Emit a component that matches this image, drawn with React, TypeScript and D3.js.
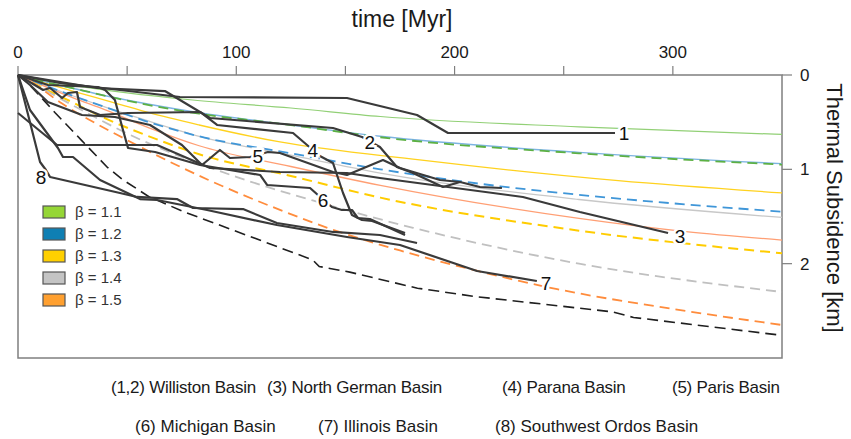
import React, { useEffect, useRef } from "react";
import * as d3 from "d3";

// axes
const timeLabels = [0, 100, 200, 300];
const timeTicks = [0, 50, 100, 150, 200, 250, 300];
const depthTicks = [0, 1, 2];

// legend
const betaLabels = ["β = 1.1", "β = 1.2", "β = 1.3", "β = 1.4", "β = 1.5"];
const betaColours = ["#95d636", "#0f7fb3", "#ffd000", "#c4c4c4", "#ffa030"];

const basinRow1 = ["(1,2) Williston Basin", "(3) North German Basin", "(4) Parana Basin", "(5) Paris Basin"];
const basinRow2 = ["(6) Michigan Basin", "(7) Illinois Basin", "(8) Southwest Ordos Basin"];

// model curves  [time Myr, subsidence km]
const b11Solid = [[0, 0], [10, 0.05], [25, 0.11], [50, 0.19], [80, 0.265], [125, 0.35], [166, 0.44], [257, 0.55], [350, 0.63]];
const b11Dashed = [[0, 0], [10, 0.06], [25, 0.14], [40, 0.22], [60, 0.32], [83, 0.41], [125, 0.53], [166, 0.66], [257, 0.83], [350, 0.95]];
const b12Solid = [[0, 0], [10, 0.06], [25, 0.14], [40, 0.22], [60, 0.31], [83, 0.4], [125, 0.53], [166, 0.65], [257, 0.82], [350, 0.94]];
const b12Dashed = [[0, 0], [10, 0.09], [25, 0.22], [40, 0.34], [60, 0.5], [83, 0.65], [125, 0.83], [166, 1.0], [221, 1.18], [257, 1.27], [350, 1.45]];
const b13Solid = [[0, 0], [10, 0.07], [25, 0.17], [45, 0.3], [60, 0.4], [83, 0.53], [120, 0.71], [184, 0.9], [275, 1.12], [350, 1.25]];
const b13Dashed = [[0, 0], [10, 0.12], [25, 0.29], [40, 0.46], [60, 0.65], [83, 0.84], [125, 1.07], [166, 1.3], [257, 1.65], [350, 1.89]];
const b14Solid = [[0, 0], [10, 0.09], [25, 0.22], [40, 0.34], [60, 0.49], [83, 0.65], [125, 0.85], [166, 1.04], [257, 1.32], [350, 1.51]];
const b14Dashed = [[0, 0], [10, 0.13], [25, 0.32], [50, 0.62], [100, 1.08], [135, 1.33], [181, 1.62], [257, 2.0], [350, 2.3]];
const b15Solid = [[0, 0], [10, 0.1], [25, 0.24], [40, 0.37], [60, 0.56], [83, 0.75], [125, 0.97], [166, 1.17], [257, 1.52], [306, 1.66], [350, 1.75]];
const b15Dashed = [[0, 0], [5, 0.06], [20, 0.3], [50, 0.69], [87, 1.11], [120, 1.43], [143, 1.63], [175, 1.86], [211, 2.08], [247, 2.27], [300, 2.48], [350, 2.65]];
const blackDashed = [[0, 0], [4.6, 0.085], [17, 0.4], [29, 0.69], [41, 0.98], [48, 1.11], [60, 1.29], [76, 1.45], [98, 1.64], [135, 1.96], [138, 2.03], [152, 2.09], [183, 2.26], [210, 2.35], [272, 2.51], [282, 2.57], [350, 2.76]];

// basin subsidence paths
const basin1 = [[0, 0], [19.2, 0.085], [74.2, 0.233], [150.7, 0.244], [182.8, 0.424], [197, 0.615], [273.5, 0.615]];
const basin2 = [[0, 0], [36.2, 0.138], [67.3, 0.17], [88, 0.456], [144.3, 0.562], [157.6, 0.657], [165.8, 0.763], [173.6, 0.975], [180.9, 1.039], [194.7, 1.187], [202.5, 1.134], [211.6, 1.187], [221.7, 1.198]];
const basin3 = [[0, 0.403], [17.9, 0.742], [63.7, 0.742], [88, 0.986], [120, 1.028], [150.7, 1.039], [165.8, 1.092], [231.3, 1.293], [257.4, 1.452], [297.8, 1.675]];
const basin4 = [[0, 0], [11.5, 0.159], [14.7, 0.138], [20.2, 0.244], [22.9, 0.191], [27, 0.18], [28.4, 0.339], [37.6, 0.424], [50.4, 0.403], [83.4, 0.392], [91.2, 0.53], [126, 0.615], [138.3, 0.859], [144.3, 0.933], [148.9, 1.251], [153, 1.484], [157.6, 1.537], [162.2, 1.548], [177.3, 1.675]];
const basin5 = [[0, 0], [5.5, 0.106], [13.7, 0.286], [29.3, 0.424], [44.4, 0.445], [60.5, 0.53], [75.1, 0.742], [84.3, 0.954], [92.5, 0.795], [97.1, 0.88], [106.3, 0.869], [114.5, 0.816], [120, 0.827], [144.3, 1.028], [150.7, 1.06], [167.2, 0.901], [175, 0.986], [193.3, 1.113], [202.5, 1.134]];
const basin6 = [[0, 0], [13.7, 0.106], [36.6, 0.127], [39.9, 0.159], [44.4, 0.265], [48.1, 0.583], [50.4, 0.774], [62.8, 0.816], [83.4, 0.954], [110.9, 1.06], [114.1, 1.166], [133.8, 1.198], [137.4, 1.272], [143.8, 1.399], [148.4, 1.431], [153, 1.431], [155.7, 1.516], [161.2, 1.527], [177.3, 1.696]];
const basin7 = [[0, 0], [5.5, 0.371], [18.3, 0.774], [20.6, 0.869], [25.2, 0.869], [37.6, 1.113], [55.9, 1.315], [63.7, 1.325], [86.6, 1.431], [118.6, 1.59], [150.7, 1.717], [175, 1.802], [210.3, 2.078], [237.7, 2.184]];
const basin8 = [[0, 0], [10.1, 0.922], [12.8, 1.007], [14.7, 1.081], [46.7, 1.251], [54.5, 1.293], [72.8, 1.315], [80.2, 1.41], [103.1, 1.421], [118.6, 1.569], [144.3, 1.664], [165.8, 1.696], [182.8, 1.781]];

const basinLabels = ["1", "2", "3", "4", "5", "6", "7", "8"];
const labelTimes = [277.6, 161.2, 303.3, 135.1, 109.9, 139.7, 241.9, 10.5];
const labelDepths = [0.615, 0.71, 1.707, 0.795, 0.859, 1.325, 2.205, 1.081];

const App = () => {
  const ref = useRef<SVGSVGElement>(null);

  useEffect(() => {
    const width = 851;
    const height = 439;
    const left = 18, right = 782, top = 75, bottom = 358;
    const font = "'Liberation Sans', Arial, sans-serif";

    const svg = d3.select(ref.current);
    svg.selectAll("*").remove();

    const x = d3.scaleLinear().domain([0, 350]).range([left, right]);
    const y = d3.scaleLinear().domain([0, 3]).range([top, bottom]);

    const smooth = d3.line<number[]>().x(d => x(d[0])).y(d => y(d[1])).curve(d3.curveMonotoneX);
    const straight = d3.line<number[]>().x(d => x(d[0])).y(d => y(d[1]));

    // plot frame
    svg.append("rect")
      .attr("x", left).attr("y", top)
      .attr("width", right - left).attr("height", bottom - top)
      .attr("fill", "none").attr("stroke", "#7f7f7f").attr("stroke-width", 1.5);

    // top axis
    svg.append("g").selectAll("line").data(timeTicks).join("line")
      .attr("x1", d => x(d)).attr("x2", d => x(d))
      .attr("y1", top).attr("y2", top - 9)
      .attr("stroke", "#7f7f7f").attr("stroke-width", 1.2);
    svg.append("g").selectAll("text").data(timeLabels).join("text")
      .attr("x", d => x(d)).attr("y", 58)
      .attr("text-anchor", "middle").attr("font-size", 17).attr("font-family", font).attr("fill", "#1a1a1a")
      .text(d => d);
    svg.append("text")
      .attr("x", 402).attr("y", 27)
      .attr("text-anchor", "middle").attr("font-size", 23).attr("font-family", font).attr("fill", "#1a1a1a")
      .text("time [Myr]");

    // right axis
    svg.append("g").selectAll("line").data(depthTicks).join("line")
      .attr("x1", right).attr("x2", right + 10)
      .attr("y1", d => y(d)).attr("y2", d => y(d))
      .attr("stroke", "#7f7f7f").attr("stroke-width", 1.2);
    svg.append("g").selectAll("text").data(depthTicks).join("text")
      .attr("x", 800).attr("y", d => y(d) + 6)
      .attr("font-size", 17).attr("font-family", font).attr("fill", "#1a1a1a")
      .text(d => d);
    svg.append("text")
      .attr("transform", "translate(827,208) rotate(90)")
      .attr("text-anchor", "middle").attr("font-size", 22).attr("font-family", font).attr("fill", "#1a1a1a")
      .text("Thermal Subsidence [km]");

    // model curves
    const models = [
      { pts: b11Solid, colour: "#92d076", dash: null, w: 1.2 },
      { pts: b12Solid, colour: "#7db4e2", dash: null, w: 1.4 },
      { pts: b13Solid, colour: "#ffd21f", dash: null, w: 1.3 },
      { pts: b14Solid, colour: "#c8c8c8", dash: null, w: 1.3 },
      { pts: b15Solid, colour: "#ff9f74", dash: null, w: 1.3 },
      { pts: b11Dashed, colour: "#5cb043", dash: "10,6", w: 1.8 },
      { pts: b12Dashed, colour: "#3f96d8", dash: "10,6", w: 1.8 },
      { pts: b13Dashed, colour: "#ffcc00", dash: "10,6", w: 2 },
      { pts: b14Dashed, colour: "#c0c0c0", dash: "10,6", w: 1.8 },
      { pts: b15Dashed, colour: "#ff8c3c", dash: "10,6", w: 1.8 },
    ];
    models.forEach(m => {
      svg.append("path")
        .attr("d", smooth(m.pts))
        .attr("fill", "none").attr("stroke", m.colour).attr("stroke-width", m.w)
        .attr("stroke-dasharray", m.dash);
    });
    svg.append("path")
      .attr("d", straight(blackDashed))
      .attr("fill", "none").attr("stroke", "#1f1f1f").attr("stroke-width", 1.6)
      .attr("stroke-dasharray", "11,6");

    // basins
    const basins = [basin1, basin2, basin3, basin4, basin5, basin6, basin7, basin8];
    basins.forEach(b => {
      svg.append("path")
        .attr("d", straight(b))
        .attr("fill", "none").attr("stroke", "#3a3a3a").attr("stroke-width", 2.2)
        .attr("stroke-linejoin", "round");
    });
    svg.append("g").selectAll("text").data(basinLabels).join("text")
      .attr("x", (d, i) => x(labelTimes[i])).attr("y", (d, i) => y(labelDepths[i]) + 7)
      .attr("text-anchor", "middle").attr("font-size", 19).attr("font-family", font)
      .attr("fill", "#111").attr("stroke", "#fff").attr("stroke-width", 5)
      .attr("paint-order", "stroke")
      .text(d => d);

    // beta legend
    const lg = svg.append("g");
    betaLabels.forEach((lab, i) => {
      const ly = 206 + i * 22;
      lg.append("rect")
        .attr("x", 43).attr("y", ly).attr("width", 22).attr("height", 12)
        .attr("fill", betaColours[i]).attr("stroke", "#555").attr("stroke-width", 1.2);
      lg.append("text")
        .attr("x", 75).attr("y", ly + 11)
        .attr("font-size", 15).attr("font-family", font).attr("fill", "#333")
        .text(lab);
    });

    // basin names
    const row1X = [111, 267, 502, 672];
    const row2X = [135, 318, 495];
    svg.append("g").selectAll("text").data(basinRow1).join("text")
      .attr("x", (d, i) => row1X[i]).attr("y", 393)
      .attr("font-size", 17).attr("letter-spacing", -0.25).attr("font-family", font).attr("fill", "#1a1a1a")
      .text(d => d);
    svg.append("g").selectAll("text").data(basinRow2).join("text")
      .attr("x", (d, i) => row2X[i]).attr("y", 432)
      .attr("font-size", 17).attr("font-family", font).attr("fill", "#1a1a1a")
      .text(d => d);

    svg.attr("width", width).attr("height", height);
  }, []);

  return (
    <div>
      <svg ref={ref} width={851} height={439} style={{ position: "absolute", left: 0, top: 0, background: "#fff" }} />
    </div>
  );
};

export default App;
